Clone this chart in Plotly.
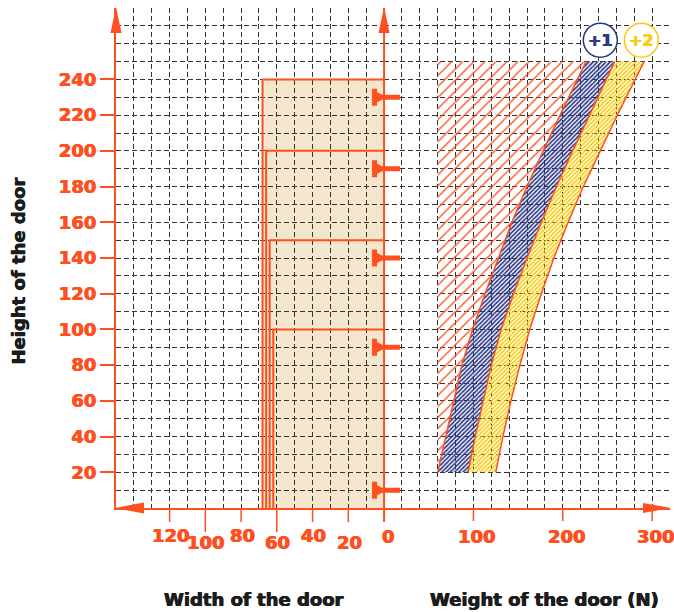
import plotly.graph_objects as go

ORANGE = "#FF4F1F"
NAVY = "#2B3886"
YELLOW = "#F8CC12"
BEIGE = "#F3E6CC"
GRID = "#333333"
INK = "#1c1c1c"
CLEAR = "rgba(255,255,255,0)"
FONT = "DejaVu Sans"

# door sizes (left panel, cm)
door_widths = [68, 66, 64, 62]
door_heights = [240, 200, 150, 100]
handle_heights = [230, 190, 140, 90, 10]

# weight bands (right panel, N) read at these door heights
band_heights = [20, 40, 60, 80, 100, 120, 140, 160, 180, 200, 220, 240, 250]
weight_min = [60, 69, 78, 87, 99, 113, 128, 143, 160, 178, 197, 216, 226]
weight_plus1 = [94, 102, 111, 120, 131, 145, 160, 176, 193, 211, 230, 249, 258]
weight_plus2 = [125, 133, 142, 152, 163, 176, 190, 206, 223, 242, 261, 281, 291]

band_labels = ["+1", "+2"]
band_label_x = [242, 288]
band_label_y = 262

height_ticks = [20, 40, 60, 80, 100, 120, 140, 160, 180, 200, 220, 240]
width_ticks = [120, 100, 80, 60, 40, 20]
weight_ticks = [0, 100, 200, 300]

WIDTH_MAX = 150
WEIGHT_MAX = 320
HEIGHT_MAX = 280

FIG_W, FIG_H = 674, 612
ML, MR, MT, MB = 116, 4, 8, 104
PLOT_H = FIG_H - MT - MB
# 10 cm of width and 20 N of weight share one grid square
split = WIDTH_MAX / (WIDTH_MAX + WEIGHT_MAX / 2)


def heavy(color):
    # a thin text-shadow to thicken the bold face a little
    return f"0.45px 0 0 {color}, -0.45px 0 0 {color}"


fig = go.Figure()

# door outlines
ox, oy = [], []
for w, h in zip(door_widths, door_heights):
    ox += [w, w, 0, None]
    oy += [0, h, h, None]
fig.add_trace(go.Scatter(x=ox, y=oy, mode="lines", xaxis="x", yaxis="y",
                         line=dict(color=ORANGE, width=2), hoverinfo="skip"))

# red hatched zone left of the first band
fig.add_trace(go.Scatter(
    x=[weight_min[0]] + weight_min[::-1],
    y=[band_heights[-1]] + band_heights[::-1],
    xaxis="x2", yaxis="y", mode="lines", fill="toself",
    line=dict(width=0), fillcolor=CLEAR,
    fillpattern=dict(shape="/", fgcolor=ORANGE, bgcolor=CLEAR, fgopacity=1,
                     size=7.8, solidity=0.17),
    hoverinfo="skip"))

for lo, hi, col in [(weight_min, weight_plus1, NAVY), (weight_plus1, weight_plus2, YELLOW)]:
    fig.add_trace(go.Scatter(
        x=lo + hi[::-1], y=band_heights + band_heights[::-1],
        xaxis="x2", yaxis="y", mode="lines", fill="toself",
        line=dict(width=0), fillcolor=CLEAR,
        fillpattern=dict(shape="/", fgcolor=col, bgcolor=CLEAR, fgopacity=1,
                         size=3, solidity=0.55),
        hoverinfo="skip"))

for curve in [weight_min, weight_plus1, weight_plus2]:
    fig.add_trace(go.Scatter(x=curve, y=band_heights, xaxis="x2", yaxis="y",
                             mode="lines", line=dict(color=ORANGE, width=1.5),
                             hoverinfo="skip"))

shapes = []
for w, h in zip(door_widths, door_heights):
    shapes.append(dict(type="rect", xref="x", yref="y", x0=w, x1=0, y0=0, y1=h,
                       fillcolor=BEIGE, line=dict(width=0), layer="below"))

# central axis
shapes.append(dict(type="line", xref="paper", x0=split, x1=split,
                   yref="paper", ysizemode="pixel", yanchor=0, y0=-14, y1=PLOT_H,
                   line=dict(color=ORANGE, width=2)))

arrow_up = "M -5.5,-25 L 0,1 L 5.5,-25 Z"
for ax_x in [0, split]:
    shapes.append(dict(type="path", xref="paper", yref="paper",
                       xsizemode="pixel", ysizemode="pixel", xanchor=ax_x, yanchor=1,
                       path=arrow_up, fillcolor=ORANGE, line=dict(width=0)))
shapes.append(dict(type="path", xref="paper", yref="paper",
                   xsizemode="pixel", ysizemode="pixel", xanchor=0, yanchor=0,
                   path="M 28,5.5 L -1,0 L 28,-5.5 Z", fillcolor=ORANGE, line=dict(width=0)))
shapes.append(dict(type="path", xref="paper", yref="paper",
                   xsizemode="pixel", ysizemode="pixel", xanchor=1, yanchor=0,
                   path="M -27,5 L 1,0 L -27,-5 Z", fillcolor=ORANGE, line=dict(width=0)))

# door handles on the hinge side
handle = ("M -12,-8.5 L -7,-8.5 L -7,-5 L -2,-2.5 L 16,-2.5 L 16,2.5 "
          "L -2,2.5 L -7,5 L -7,8.5 L -12,8.5 Z")
for h in handle_heights:
    shapes.append(dict(type="path", xref="paper", yref="y",
                       xsizemode="pixel", ysizemode="pixel", xanchor=split, yanchor=h,
                       path=handle, fillcolor=ORANGE, line=dict(width=0)))

annotations = []
label_font = dict(family=FONT, size=18, color=ORANGE, weight="bold", shadow=heavy(ORANGE))

# bottom ticks, staggered labels for width
for i, v in enumerate(width_ticks):
    low = i % 2 == 1
    long_tick = low and v != width_ticks[-1]
    shapes.append(dict(type="line", xref="x", x0=v, x1=v, yref="paper",
                       ysizemode="pixel", yanchor=0, y0=0, y1=-24 if long_tick else -14,
                       line=dict(color=ORANGE, width=1.5)))
    annotations.append(dict(xref="x", yref="paper", x=v, y=0, xshift=1,
                            yshift=-34.5 if low else -27, yanchor="middle",
                            text=str(v), showarrow=False, font=label_font))
for v in weight_ticks:
    if v > 0:
        shapes.append(dict(type="line", xref="x2", x0=v, x1=v, yref="paper",
                           ysizemode="pixel", yanchor=0, y0=0, y1=-13,
                           line=dict(color=ORANGE, width=1.5)))
    annotations.append(dict(xref="x2", yref="paper", x=v, y=0, xshift=4, yshift=-28,
                            yanchor="middle", text=str(v), showarrow=False, font=label_font))

# band markers
for txt, x, col in zip(band_labels, band_label_x, [NAVY, YELLOW]):
    shapes.append(dict(type="circle", xref="x2", yref="y", xsizemode="pixel",
                       ysizemode="pixel", xanchor=x, yanchor=band_label_y,
                       x0=-17, x1=17, y0=-17, y1=17, fillcolor="white",
                       line=dict(color=col, width=1.5)))
    annotations.append(dict(xref="x2", yref="y", x=x, y=band_label_y, text=txt,
                            showarrow=False, xanchor="center", yanchor="middle",
                            font=dict(family=FONT, size=16, color=col, weight="bold",
                                      shadow=heavy(col))))

title_font = dict(family=FONT, size=18, color=INK, weight="bold", shadow=heavy(INK))
annotations.append(dict(xref="paper", yref="paper", x=(18 - ML) / (FIG_W - ML - MR), y=0.473,
                        text="Height of the door", textangle=-90, showarrow=False,
                        xanchor="center", yanchor="middle", font=title_font))
annotations.append(dict(xref="paper", yref="paper", x=0.249, y=-0.182,
                        text="Width of the door", showarrow=False,
                        xanchor="center", yanchor="middle", font=title_font))
annotations.append(dict(xref="paper", yref="paper", x=0.774, y=-0.182,
                        text="Weight of the door (N)", showarrow=False,
                        xanchor="center", yanchor="middle", font=title_font))

grid = dict(showgrid=True, gridcolor=GRID, gridwidth=1, griddash="5px,3px", zeroline=False)
fig.update_layout(
    width=FIG_W, height=FIG_H,
    margin=dict(l=ML, r=MR, t=MT, b=MB, pad=0),
    paper_bgcolor="white", plot_bgcolor="white",
    showlegend=False,
    xaxis=dict(domain=[0, split], range=[WIDTH_MAX, 0], anchor="y", tick0=0, dtick=10,
               showticklabels=False, ticks="", showline=True, linecolor=ORANGE,
               linewidth=2, fixedrange=True, **grid),
    xaxis2=dict(domain=[split, 1], range=[0, WEIGHT_MAX], anchor="y", tick0=0, dtick=20,
                showticklabels=False, ticks="", showline=True, linecolor=ORANGE,
                linewidth=2, fixedrange=True, **grid),
    yaxis=dict(range=[0, HEIGHT_MAX], tickmode="array", tickvals=height_ticks,
               ticks="outside", ticklen=14, tickwidth=2, tickcolor=ORANGE,
               showline=True, linecolor=ORANGE, linewidth=2, tickfont=label_font,
               minor=dict(tick0=0, dtick=10, showgrid=True, gridcolor=GRID,
                          griddash="5px,3px", gridwidth=1, ticks=""),
               fixedrange=True, **grid),
    shapes=shapes,
    annotations=annotations,
)

fig.write_html("out.html", config={"displayModeBar": False},
               post_script="document.body.style.margin = '0';")
